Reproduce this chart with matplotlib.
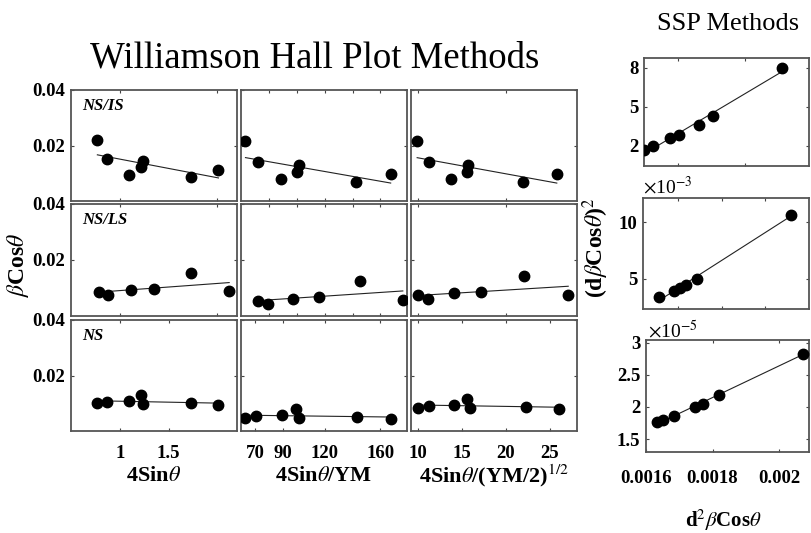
"""
Williamson-Hall and SSP plot panels, redrawn with matplotlib.
Output: out.png
"""

import numpy as np
import matplotlib
matplotlib.use("Agg")
import matplotlib.pyplot as plt

plt.rcParams["font.family"] = ["Liberation Serif", "DejaVu Serif"]
plt.rcParams["mathtext.fontset"] = "stix"

W, H = 811, 533

# --- Williamson-Hall data (x per column, y = beta*cos(theta)) ---
# column 1: 4 sin(theta)
x_sin_13 = [0.77, 0.87, 1.09, 1.22, 1.24, 1.73, 2.01]
x_sin_2 = [0.79, 0.88, 1.11, 1.35, 1.73, 2.12]
# column 2: 4 sin(theta) / YM
x_ym_1 = [63.2, 72.5, 88.8, 100.4, 101.5, 142.3, 167.3]
x_ym_2 = [72.5, 79.2, 97.0, 116.2, 145.4, 176.0]
x_ym_3 = [63.2, 70.9, 89.6, 99.6, 101.5, 143.0, 167.3]
# column 3: 4 sin(theta) / (YM/2)^1/2
x_ymh_1 = [9.9, 11.25, 13.8, 15.57, 15.68, 21.93, 25.8]
x_ymh_2 = [10.0, 11.14, 14.06, 17.2, 22.1, 27.1]
x_ymh_3 = [10.0, 11.2, 14.1, 15.57, 15.95, 22.3, 26.0]

y_nsis_1 = [0.0219, 0.0153, 0.0093, 0.0121, 0.0143, 0.0087, 0.0111]
y_nsis_23 = [0.0215, 0.0142, 0.0078, 0.0106, 0.0130, 0.0069, 0.0096]
y_nsls_1 = [0.0085, 0.0075, 0.0094, 0.0098, 0.0153, 0.0090]
y_nsls_2 = [0.0055, 0.0044, 0.0062, 0.0069, 0.0126, 0.0058]
y_nsls_3 = [0.0074, 0.0062, 0.0081, 0.0085, 0.0142, 0.0076]
y_ns_1 = [0.0100, 0.0106, 0.0108, 0.0130, 0.0097, 0.0102, 0.0095]
y_ns_2 = [0.0046, 0.0054, 0.0058, 0.0078, 0.0048, 0.0052, 0.0044]
y_ns_3 = [0.0084, 0.0091, 0.0094, 0.0114, 0.0082, 0.0088, 0.0080]

row_labels = ["NS/IS", "NS/LS", "NS"]
col_xlabels = [r"4Sin$\theta$", r"4Sin$\theta$/YM", r"4Sin$\theta$/(YM/2)$^{1/2}$"]
col_xlims = [(0.5, 2.2), (60, 179), (9.2, 28.1)]
col_ticks = [[1, 2], [80, 100, 120, 140, 160], [10, 20]]
col_ticklabels = [[1, 1.5], [70, 90, 120, 160], [10, 15, 20, 25]]

# --- SSP data ---
ssp_x_a = [0.001598, 0.001623, 0.001675, 0.001701, 0.001761, 0.001804, 0.00201]
ssp_y_a = [1.67, 1.98, 2.57, 2.82, 3.59, 4.28, 8.0]
ssp_x_b = [0.001642, 0.001687, 0.001704, 0.001722, 0.001754, 0.002036]
ssp_y_b = [3.38, 3.97, 4.23, 4.47, 5.03, 10.64]          # x 1e-3
ssp_x_c = [0.001633, 0.00165, 0.001684, 0.001747, 0.001772, 0.001819, 0.002071]
ssp_y_c = [1.76, 1.79, 1.86, 2.0, 2.05, 2.18, 2.83]      # x 1e-5

fig = plt.figure(figsize=(W / 100, H / 100), dpi=100, facecolor="white")


def px_axes(l, t, r, b):
    return fig.add_axes([l / W, 1 - b / H, (r - l) / W, (b - t) / H])


def style(ax, xpad=4):
    for s in ax.spines.values():
        s.set_edgecolor("#555555")
        s.set_linewidth(1.3)
    ax.tick_params(direction="in", length=2.5, width=0.8, color="#444444",
                   top=True, right=True, labelsize=13.5, pad=4)
    ax.tick_params(axis="x", pad=xpad)
    for lab in ax.get_xticklabels() + ax.get_yticklabels():
        lab.set_fontweight("bold")


def scatter_fit(ax, x, y):
    x = np.asarray(x)
    y = np.asarray(y)
    k, b = np.polyfit(x, y, 1)
    xs = np.array([x.min(), x.max()])
    ax.plot(xs, k * xs + b, color="#222222", lw=0.8, zorder=2)
    ax.plot(x, y, "o", color="black", ms=7.5, zorder=3)


grid = [
    [(x_sin_13, y_nsis_1), (x_ym_1, y_nsis_23), (x_ymh_1, y_nsis_23)],
    [(x_sin_2, y_nsls_1), (x_ym_2, y_nsls_2), (x_ymh_2, y_nsls_3)],
    [(x_sin_13, y_ns_1), (x_ym_3, y_ns_2), (x_ymh_3, y_ns_3)],
]
col_px = [(71, 237), (241, 407), (411, 577)]
row_px = [(90, 201), (204, 316), (320, 431)]

for r, (t, b) in enumerate(row_px):
    for c, (l, rr) in enumerate(col_px):
        ax = px_axes(l, t, rr, b)
        x, y = grid[r][c]
        scatter_fit(ax, x, y)
        ax.set_xlim(*col_xlims[c])
        ax.set_ylim(0, 0.04)
        ax.set_yticks([0.02, 0.04])
        if c == 0:
            ax.set_yticklabels(["0.02", "0.04"])
            ax.text(0.07, 0.86, row_labels[r], transform=ax.transAxes,
                    fontsize=12, fontweight="bold", style="italic", va="center")
        else:
            ax.set_yticklabels([])
        if r == 2:
            ax.set_xticks(col_ticklabels[c])
            ax.set_xticklabels([str(v) for v in col_ticklabels[c]])
            style(ax, xpad=10)
        else:
            ax.set_xticks(col_ticks[c])
            ax.set_xticklabels([])
            style(ax)

# x labels of the WH columns
for (l, rr), lab in zip(col_px, col_xlabels):
    fig.text((l + rr) / 2 / W, 1 - 476 / H, lab, ha="center", va="center",
             fontsize=16, fontweight="bold")
fig.text(18 / W, 1 - 265 / H, r"$\beta$Cos$\theta$", rotation=90,
         ha="center", va="center", fontsize=17, fontweight="bold")
fig.text(315 / W, 1 - 58 / H, "Williamson Hall Plot Methods",
         ha="center", va="center", fontsize=26.5)

# --- SSP panels ---
ax_a = px_axes(644, 58, 809, 166)
scatter_fit(ax_a, ssp_x_a, ssp_y_a)
ax_a.set_xlim(0.001597, 0.00209)
ax_a.set_ylim(0.45, 8.75)
ax_a.set_yticks([2, 5, 8])
ax_a.set_xticks([0.0017, 0.0019])
ax_a.set_xticklabels([])
style(ax_a)

ax_b = px_axes(643, 198, 809, 309)
scatter_fit(ax_b, ssp_x_b, ssp_y_b)
ax_b.set_xlim(0.001594, 0.00209)
ax_b.set_ylim(2.35, 12.15)
ax_b.set_yticks([5, 10])
ax_b.set_xticks([0.0017, 0.00183, 0.00196])
ax_b.set_xticklabels([])
style(ax_b)

ax_c = px_axes(646, 340, 809, 452)
scatter_fit(ax_c, ssp_x_c, ssp_y_c)
ax_c.set_xlim(0.0016, 0.00209)
ax_c.set_ylim(1.30, 3.04)
ax_c.set_yticks([1.5, 2, 2.5, 3])
ax_c.set_yticklabels(["1.5", "2", "2.5", "3"])
ax_c.set_xticks([0.0016, 0.0018, 0.002])
ax_c.set_xticklabels(["0.0016", "0.0018", "0.002"])
style(ax_c, xpad=13)

fig.text(643 / W, 1 - 187 / H, r"$\times$10$^{-3}$", ha="left", va="center", fontsize=14)
fig.text(648 / W, 1 - 331 / H, r"$\times$10$^{-5}$", ha="left", va="center", fontsize=14)
fig.text(728 / W, 1 - 24 / H, "SSP Methods", ha="center", va="center", fontsize=19)
fig.text(596 / W, 1 - 248 / H, r"(d$\beta$Cos$\theta$)$^2$", rotation=90,
         ha="center", va="center", fontsize=17, fontweight="bold")
fig.text(723 / W, 1 - 520 / H, r"d$^2\beta$Cos$\theta$", ha="center", va="center",
         fontsize=15, fontweight="bold")

fig.savefig("out.png", dpi=100, facecolor="white")
